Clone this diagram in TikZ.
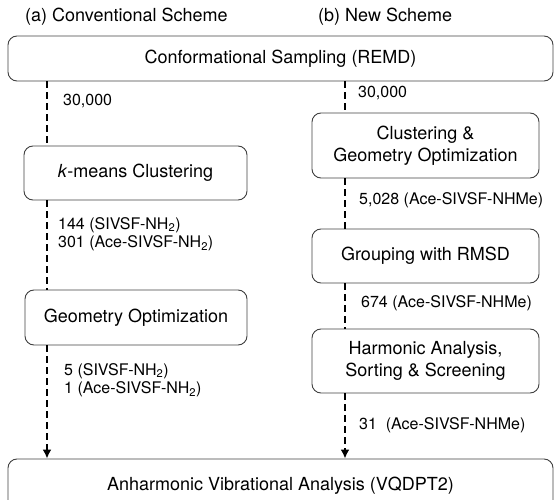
\documentclass[tikz,border=0pt]{standalone}
\usepackage{fontspec}
\setmainfont{TeX Gyre Heros}
\usetikzlibrary{arrows.meta}

\begin{document}
\begin{tikzpicture}[x=1pt,y=-1pt,
    stage/.style={draw=black!75, line width=0.9pt, rounded corners=9pt,
        align=center, inner sep=0pt, font=\fontsize{18}{21.5}\selectfont},
    count/.style={anchor=west, align=left, inner sep=0pt,
        font=\fontsize{16}{18.5}\selectfont},
    heading/.style={anchor=west, inner sep=0pt, font=\fontsize{18}{21.5}\selectfont},
    flow/.style={line width=2.3pt, dash pattern=on 7pt off 4pt},
    into/.style={flow, -{Latex[length=9pt,width=9pt]}}]
    \def\lx{47}
    \def\rx{345}

\useasboundingbox (0,0) rectangle (555,500);

% --------------------
% column headings
% --------------------
\node[heading] (hda) at (25,17) {(a) Conventional Scheme};
\node[heading] (hdb) at (318,17) {(b) New Scheme};

% --------------------
% shared boxes
% --------------------
\node[stage, minimum width=545, minimum height=45] (remd) at (280.5,58.5)
    {Conformational Sampling (REMD)};
\node[stage, minimum width=545, minimum height=54] (vqdpt) at (280.5,486)
    {Anharmonic Vibrational Analysis (VQDPT2)};

% --------------------
% (a) conventional
% --------------------
\node[stage, minimum width=223, minimum height=54] (kmeans) at (135.5,173)
    {\textit{k}-means Clustering};
\node[stage, minimum width=222, minimum height=55] (geom) at (136,317.5)
    {Geometry Optimization};

\coordinate (la) at (\lx,0);
\draw[flow] (remd.south -| la) -- (kmeans.north -| la);
\draw[flow] (kmeans.south -| la) -- (geom.north -| la);
\draw[into] (geom.south -| la) -- (vqdpt.north -| la);

\node[count] (na1) at (63,101) {30,000};
\node[count] (na2) at (58,234) {144 (SIVSF-NH\textsubscript{2})\\301 (Ace-SIVSF-NH\textsubscript{2})};
\node[count] (na3) at (64,380) {5 (SIVSF-NH\textsubscript{2})\\1 (Ace-SIVSF-NH\textsubscript{2})};

% --------------------
% (b) new scheme
% --------------------
\node[stage, minimum width=227, minimum height=65] (clgeo) at (425.5,145.5)
    {Clustering \&\\Geometry Optimization};
\node[stage, minimum width=227, minimum height=54] (group) at (425.5,256)
    {Grouping with RMSD};
\node[stage, minimum width=227, minimum height=64] (harm) at (425.5,361)
    {Harmonic Analysis,\\Sorting \& Screening};

\coordinate (ra) at (\rx,0);
\draw[flow] (remd.south -| ra) -- (clgeo.north -| ra);
\draw[flow] (clgeo.south -| ra) -- (group.north -| ra);
\draw[flow] (group.south -| ra) -- (harm.north -| ra);
\draw[into] (harm.south -| ra) -- (vqdpt.north -| ra);

\node[count] (nb1) at (358,93) {30,000};
\node[count] (nb2) at (359,200) {5,028 (Ace-SIVSF-NHMe)};
\node[count] (nb3) at (361,303) {674 (Ace-SIVSF-NHMe)};
\node[count] (nb4) at (359,425) {31 \ (Ace-SIVSF-NHMe)};

\end{tikzpicture}
\end{document}
